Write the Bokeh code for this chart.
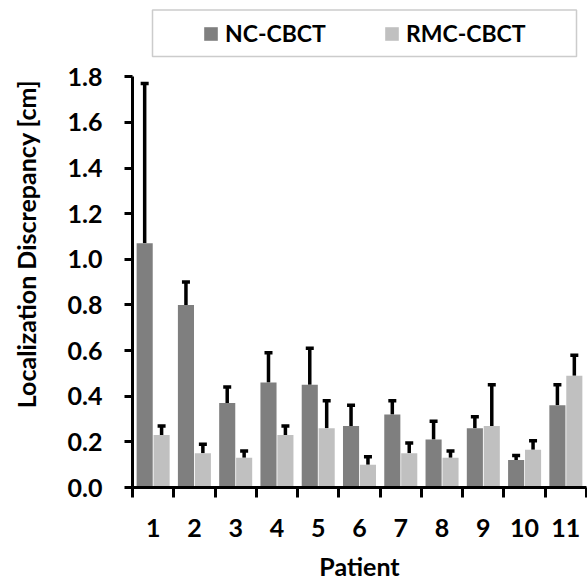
from bokeh.plotting import figure
from bokeh.models import (ColumnDataSource, FixedTicker, Range1d, Whisker, TeeHead,
                          Legend, LegendItem, BoxAnnotation)
from bokeh.transform import dodge
from bokeh.embed import file_html
from bokeh.resources import INLINE

patients = ["1", "2", "3", "4", "5", "6", "7", "8", "9", "10", "11"]
nc_mean = [1.07, 0.80, 0.37, 0.46, 0.45, 0.27, 0.32, 0.21, 0.26, 0.12, 0.36]
nc_sd = [0.70, 0.10, 0.07, 0.13, 0.16, 0.09, 0.06, 0.08, 0.05, 0.02, 0.09]
rmc_mean = [0.23, 0.15, 0.13, 0.23, 0.26, 0.10, 0.15, 0.13, 0.27, 0.165, 0.49]
rmc_sd = [0.04, 0.04, 0.03, 0.04, 0.12, 0.035, 0.045, 0.03, 0.18, 0.04, 0.09]
y_ticks = [0.0, 0.2, 0.4, 0.6, 0.8, 1.0, 1.2, 1.4, 1.6, 1.8]
y_tick_labels = ["0.0", "0.2", "0.4", "0.6", "0.8", "1.0", "1.2", "1.4", "1.6", "1.8"]
series_names = ["NC-CBCT", "RMC-CBCT"]

pos = list(range(1, len(patients) + 1))
src = ColumnDataSource(dict(
    x=pos,
    nc=nc_mean, nc_up=[m + s for m, s in zip(nc_mean, nc_sd)],
    rmc=rmc_mean, rmc_up=[m + s for m, s in zip(rmc_mean, rmc_sd)],
))

# layout: frame spans the full height so the legend (above the axis top) is not clipped
FRAME_TOP_PX = 0
FRAME_BOTTOM_PX = 490
AXIS_TOP_PX = 76.7
y_max = y_ticks[-1]
y_end = y_max * (FRAME_BOTTOM_PX - FRAME_TOP_PX) / (FRAME_BOTTOM_PX - AXIS_TOP_PX)

FONT = "Lato"
FS = "25px"
p = figure(width=587, height=583, output_backend="svg", toolbar_location=None,
           x_range=Range1d(0.5, len(patients) + 0.5), y_range=Range1d(0, y_end),
           min_border_left=132, min_border_right=1, min_border_top=FRAME_TOP_PX,
           min_border_bottom=583 - FRAME_BOTTOM_PX)
p.outline_line_color = None
p.xgrid.visible = False
p.ygrid.visible = False

NC_COL = "#7f7f7f"
RMC_COL = "#c0c0c0"
W = 0.39
r1 = p.vbar(x=dodge("x", -0.205, range=None), top="nc", width=W, source=src,
            fill_color=NC_COL, line_color=None)
r2 = p.vbar(x=dodge("x", 0.205, range=None), top="rmc", width=W, source=src,
            fill_color=RMC_COL, line_color=None)

for col, off in (("nc", -0.205), ("rmc", 0.205)):
    w = Whisker(source=src, base=dodge("x", off, range=None), lower=col, upper=col + "_up",
                line_color="black", line_width=3.5,
                upper_head=TeeHead(size=8, line_width=3.5, line_color="black"),
                lower_head=None)
    p.add_layout(w)

# axes
xa = p.xaxis[0]
xa.ticker = FixedTicker(ticks=pos, minor_ticks=[i - 0.5 for i in pos] + [len(pos) + 0.5])
xa.major_label_overrides = {i: lab for i, lab in zip(pos, patients)}
xa.major_tick_line_color = None
xa.major_tick_out = 10
xa.major_tick_in = 0
xa.minor_tick_out = 10
xa.minor_tick_in = 0
xa.minor_tick_line_width = 3
xa.minor_tick_line_color = "black"
xa.axis_label = "Patient"
xa.major_label_standoff = 21
xa.axis_label_standoff = 11

ya = p.yaxis[0]
ya.ticker = FixedTicker(ticks=y_ticks, minor_ticks=[])
ya.major_label_overrides = {t: l for t, l in zip(y_ticks, y_tick_labels)}
ya.bounds = (0, y_max)
ya.major_tick_out = 8
ya.major_tick_in = 0
ya.major_tick_line_width = 3
ya.axis_label = "Localization Discrepancy [cm]"
ya.major_label_standoff = 22
ya.axis_label_standoff = 24

for ax in (xa, ya):
    ax.axis_line_width = 3
    ax.axis_line_color = "black"
    ax.major_label_text_font = FONT
    ax.major_label_text_font_style = "bold"
    ax.major_label_text_font_size = FS
    ax.major_label_text_color = "black"
    ax.axis_label_text_font = FONT
    ax.axis_label_text_font_style = "bold"
    ax.axis_label_text_font_size = FS
    ax.axis_label_text_color = "black"

# legend
box = BoxAnnotation(left=152, right=576, top=9.5, bottom=56,
                    left_units="canvas", right_units="canvas",
                    top_units="canvas", bottom_units="canvas",
                    fill_alpha=0, line_color="#555555", line_width=1.5)
p.add_layout(box)
legend = Legend(items=[LegendItem(label=series_names[0], renderers=[r1]),
                       LegendItem(label=series_names[1], renderers=[r2])],
                orientation="horizontal", location=(70, 440),
                border_line_alpha=0, background_fill_alpha=0,
                glyph_width=17, glyph_height=17, label_standoff=6, spacing=57,
                padding=0, margin=0,
                label_text_font=FONT, label_text_font_style="bold",
                label_text_font_size="23px", label_text_color="black")
p.add_layout(legend)

open("out.html", "w").write(file_html(p, INLINE))
